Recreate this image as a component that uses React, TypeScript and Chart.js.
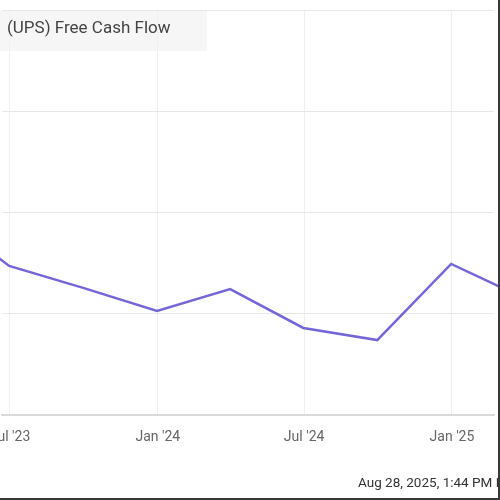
import React, { useEffect, useRef } from "react";
import { Chart, registerables } from "chart.js";

Chart.register(...registerables);

// Quarter-end dates and UPS free cash flow (USD billions)
const quarterEnds = [
  "2023-03-31",
  "2023-06-30",
  "2023-09-30",
  "2023-12-31",
  "2024-03-31",
  "2024-06-30",
  "2024-09-30",
  "2024-12-31",
  "2025-03-31",
];
const freeCashFlow = [7.56, 6.18, 5.64, 5.07, 5.61, 4.65, 4.35, 6.23, 5.39];

const tickDates = ["2023-07-01", "2024-01-01", "2024-07-01", "2025-01-01"];
const tickLabels = ["Jul '23", "Jan '24", "Jul '24", "Jan '25"];

const yTicks = [2.5, 5, 7.5, 10, 12.5];

const title = "(UPS) Free Cash Flow";
const footer = "Aug 28, 2025, 1:44 PM EDT. Powered by YCharts.";

const EPOCH = Date.UTC(2023, 6, 1);
const toDays = (s: string) => {
  const [y, m, d] = s.split("-").map(Number);
  return Math.round((Date.UTC(y, m - 1, d) - EPOCH) / 86400000);
};

export default function App() {
  const ref = useRef<HTMLCanvasElement | null>(null);

  useEffect(() => {
    if (!ref.current) return;
    const points = quarterEnds.map((d, i) => ({ x: toDays(d), y: freeCashFlow[i] }));
    const tickVals = tickDates.map(toDays);
    const chart = new Chart(ref.current, {
      type: "line",
      data: {
        datasets: [
          {
            label: "Free Cash Flow",
            data: points,
            borderColor: "#7566d8",
            borderWidth: 2.5,
            pointRadius: 0,
            tension: 0,
            clip: false as any,
          },
        ],
      },
      options: {
        animation: false,
        responsive: false,
        maintainAspectRatio: false,
        layout: { padding: { left: 62, right: 66, top: 10, bottom: 57 } },
        plugins: {
          legend: { display: false },
          tooltip: { enabled: false },
          title: { display: false },
        },
        scales: {
          x: {
            type: "linear",
            min: -9.95,
            max: 602.3,
            afterBuildTicks: (scale: any) => {
              scale.ticks = tickVals.map((v) => ({ value: v }));
            },
            afterFit: (scale: any) => {
              scale.height = 28;
            },
            ticks: {
              autoSkip: false,
              maxRotation: 0,
              padding: 14,
              color: "#666",
              font: { family: "Roboto", size: 14 },
              callback: (v: any) => {
                const i = tickVals.indexOf(Number(v));
                return i >= 0 ? tickLabels[i] : "";
              },
            },
            grid: { color: "#efefef", lineWidth: 1, drawTicks: false },
            border: { display: true, color: "#d9d9d9", width: 2 },
          },
          y: {
            type: "linear",
            position: "right",
            min: yTicks[0],
            max: yTicks[yTicks.length - 1],
            afterBuildTicks: (scale: any) => {
              scale.ticks = yTicks.map((v) => ({ value: v }));
            },
            afterFit: (scale: any) => {
              scale.width = 0;
            },
            ticks: { display: false },
            grid: { color: "#e8e8e8", lineWidth: 1, drawTicks: false },
            border: { display: false },
          },
        },
      },
    });
    return () => chart.destroy();
  }, []);

  return (
    <div
      style={{
        position: "fixed",
        left: 0,
        top: 0,
        width: 500,
        height: 500,
        overflow: "hidden",
        background: "#fff",
        fontFamily: "Roboto, sans-serif",
      }}
    >
      <div style={{ position: "absolute", left: -60, top: 0, width: 620, height: 500 }}>
        <canvas ref={ref} width={620} height={500} style={{ width: 620, height: 500, display: "block" }} />
      </div>
      <div
        style={{
          position: "absolute",
          left: 0,
          top: 11,
          width: 207,
          height: 40,
          background: "rgba(240,240,240,0.6)",
        }}
      />
      <div
        style={{
          position: "absolute",
          left: 7,
          top: 17,
          fontSize: 17,
          lineHeight: "20px",
          color: "#444",
          whiteSpace: "nowrap",
        }}
      >
        {title}
      </div>
      <div
        style={{
          position: "absolute",
          left: 358,
          top: 474,
          fontSize: 13.5,
          lineHeight: "16px",
          color: "#333",
          whiteSpace: "nowrap",
        }}
      >
        {footer}
      </div>
      <div style={{ position: "absolute", right: 0, top: 0, width: 2.5, height: 500, background: "#3a3a3a" }} />
      <div style={{ position: "absolute", left: 0, bottom: 0, width: 500, height: 2.5, background: "#3a3a3a" }} />
    </div>
  );
}
